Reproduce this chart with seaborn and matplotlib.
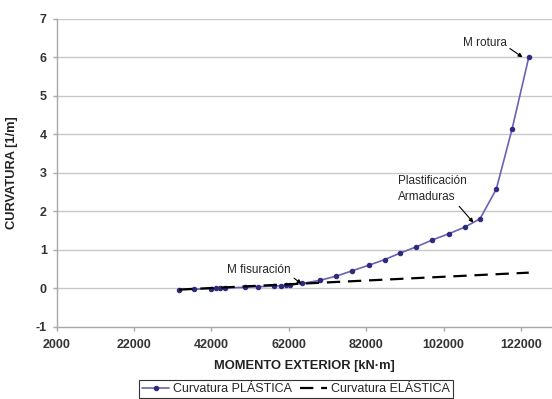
import pandas as pd
import numpy as np
import seaborn as sns
import matplotlib.pyplot as plt

# Data
plastic_moment = [33700, 37500, 41800, 43200, 44200, 45500, 50600, 54100, 58200,
                  60100, 61200, 62400, 65500, 70000, 74300, 78400, 82600, 86800,
                  90800, 94900, 99100, 103300, 107400, 111400, 115600, 119700, 124000]
plastic_curv = [-0.04, -0.03, -0.015, -0.01, -0.005, 0.0, 0.02, 0.035, 0.05,
                0.06, 0.07, 0.08, 0.12, 0.20, 0.31, 0.45, 0.59, 0.74,
                0.91, 1.07, 1.25, 1.41, 1.58, 1.80, 2.57, 4.14, 6.00]
elastic_moment = [33700, 124000]
elastic_curv = [-0.04, 0.40]

x_ticks = [2000, 22000, 42000, 62000, 82000, 102000, 122000]
y_ticks = [-1, 0, 1, 2, 3, 4, 5, 6, 7]

df_p = pd.DataFrame({'M': plastic_moment, 'k': plastic_curv})
df_e = pd.DataFrame({'M': elastic_moment, 'k': elastic_curv})

sns.set_style("white")
plt.rcParams['font.family'] = ['Liberation Sans', 'DejaVu Sans']

fig = plt.figure(figsize=(5.52, 3.99), dpi=100)
ax = fig.add_axes([0.1024, 0.1817, 0.8976, 0.7712])

sns.lineplot(data=df_p, x='M', y='k', ax=ax, color='#6b62b4', linewidth=1.2,
             marker='o', markersize=3.2, markerfacecolor='#2c2a7c',
             markeredgecolor='#2c2a7c', label='Curvatura PLÁSTICA', sort=False)
sns.lineplot(data=df_e, x='M', y='k', ax=ax, color='black', linewidth=1.6,
             dashes=False, label='Curvatura ELÁSTICA', sort=False)
ax.lines[1].set_dashes([6, 3.5])

ax.set_xlim(2000, 130000)
ax.set_ylim(-1, 7)
ax.set_xticks(x_ticks)
ax.set_yticks(y_ticks)
ax.set_xticklabels([str(v) for v in x_ticks])
ax.set_yticklabels([str(v) for v in y_ticks])

for y in y_ticks[1:]:
    ax.axhline(y, color='#c8c8c8', linewidth=1, zorder=0)

for s in ['top', 'right']:
    ax.spines[s].set_visible(False)
for s in ['left', 'bottom']:
    ax.spines[s].set_color('#a8a8a8')
    ax.spines[s].set_linewidth(1)

ax.tick_params(axis='both', direction='out', length=3, width=1, color='#a8a8a8',
               labelcolor='#333333', labelsize=9)
ax.tick_params(axis='y', pad=4)
ax.tick_params(axis='x', pad=6)
ax.xaxis.set_ticks_position('bottom')
ax.yaxis.set_ticks_position('left')
for lab in ax.get_xticklabels() + ax.get_yticklabels():
    lab.set_fontweight('bold')

ax.set_xlabel('MOMENTO EXTERIOR [kN·m]', fontsize=9.3, fontweight='bold', color='#222222')
ax.set_ylabel('CURVATURA [1/m]', fontsize=9.3, fontweight='bold', color='#222222')
ax.xaxis.set_label_coords(0.5, -0.108)
ax.yaxis.set_label_coords(-0.078, 0.5)

narrow = ['Liberation Sans Narrow', 'Liberation Sans']
arrow = dict(arrowstyle='-|>', color='black', lw=0.8, mutation_scale=6, shrinkA=0, shrinkB=0)
ax.annotate('M rotura', xy=(122400, 6.0), xytext=(112600, 6.38), ha='center', va='center',
            fontsize=8.5, family=narrow, arrowprops={**arrow, 'relpos': (1.0, 0.2)})
ax.annotate('Plastificación\nArmaduras', xy=(109700, 1.70), xytext=(90200, 2.58),
            ha='left', va='center', fontsize=8.5, family=narrow, linespacing=1.5,
            arrowprops={**arrow, 'relpos': (0.85, 0.0)})
ax.annotate('M fisuración', xy=(65300, 0.11), xytext=(54300, 0.475), ha='center', va='center',
            fontsize=8.5, family=narrow, arrowprops={**arrow, 'relpos': (1.0, 0.0)})

ax.get_legend().remove()
leg = fig.legend(handles=ax.lines[:2], labels=['Curvatura PLÁSTICA', 'Curvatura ELÁSTICA'],
                 loc='center', bbox_to_anchor=(0.536, 0.025), ncol=2, fontsize=9,
                 frameon=True, fancybox=False, handlelength=2.2, handletextpad=0.3,
                 columnspacing=0.6, borderpad=0.25, borderaxespad=0)
leg.get_frame().set_edgecolor('black')
leg.get_frame().set_linewidth(0.8)

fig.savefig('out.png', dpi=100, facecolor='white')
